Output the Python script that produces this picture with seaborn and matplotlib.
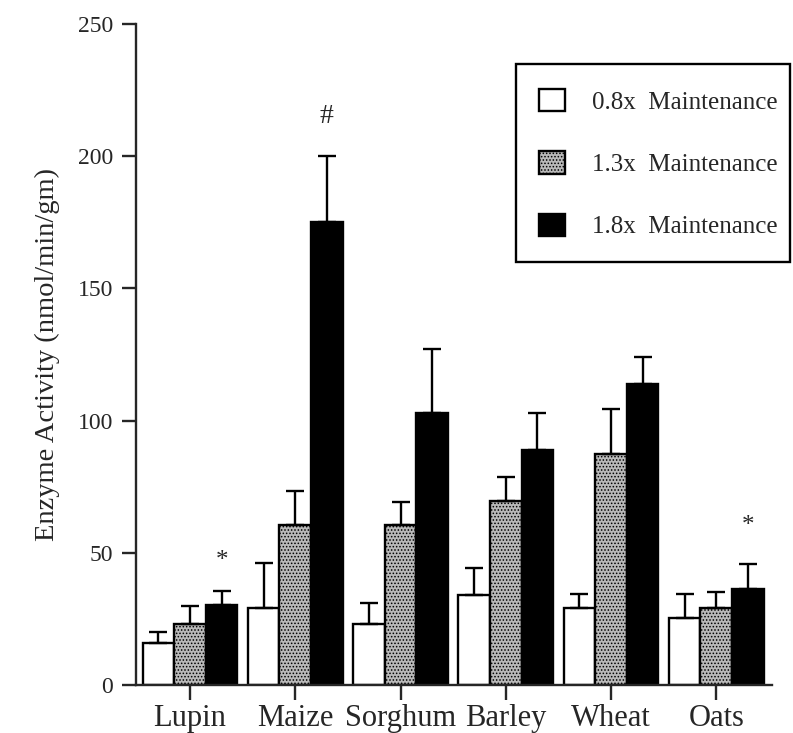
import numpy as np
import pandas as pd
import matplotlib
matplotlib.use("Agg")
import matplotlib.pyplot as plt
from matplotlib.patches import Patch, Rectangle
import seaborn as sns

# Enzyme activity by grain source and feeding level
grains = ["Lupin", "Maize", "Sorghum", "Barley", "Wheat", "Oats"]
levels = ["0.8x  Maintenance", "1.3x  Maintenance", "1.8x  Maintenance"]

mean_08 = [16, 29, 23, 34, 29, 25.4]
mean_13 = [23, 60.4, 60.4, 69.4, 87.5, 29.2]
mean_18 = [30.3, 175, 103, 88.9, 114, 36.2]

sem_08 = [4, 17.3, 8, 10.2, 5.3, 9.2]
sem_13 = [7, 12.9, 8.8, 9.2, 16.9, 6]
sem_18 = [5.2, 25, 24, 13.9, 10, 9.5]

# significance markers: (grain, symbol, height)
marks = [("Lupin", "*", 47), ("Maize", "#", 215), ("Oats", "*", 60)]

colors = ["white", "#b9b9b9", "black"]

df = pd.DataFrame({
    "grain": grains * 3,
    "level": [levels[0]] * 6 + [levels[1]] * 6 + [levels[2]] * 6,
    "activity": mean_08 + mean_13 + mean_18,
    "sem": sem_08 + sem_13 + sem_18,
})

sns.set_style("ticks")
plt.rcParams["font.family"] = ["Liberation Serif", "DejaVu Serif"]
plt.rcParams["hatch.linewidth"] = 0.7

W, H = 793, 733
fig = plt.figure(figsize=(W / 100, H / 100), dpi=100)
ax = fig.add_axes([0.1709, 0.0655, 0.9735 - 0.1709, 0.9673 - 0.0655])

sns.barplot(data=df, x="grain", y="activity", hue="level", hue_order=levels,
            order=grains, palette=colors, edgecolor="black", linewidth=1.7,
            width=0.9, errorbar=None, legend=False, ax=ax, saturation=1)

# stippled fill for the middle level
for bar in ax.containers[1]:
    bar.set_hatch(".....")

# upper-only error bars centred on each bar
for cont, lvl in zip(ax.containers, levels):
    sub = df[df["level"] == lvl].set_index("grain").loc[grains]
    xs = [b.get_x() + b.get_width() / 2 for b in cont]
    ax.errorbar(xs, sub["activity"].values,
                yerr=[np.zeros(len(xs)), sub["sem"].values],
                fmt="none", ecolor="black", elinewidth=1.7, capsize=6.5,
                capthick=1.7, zorder=5)

# significance symbols above the 1.8x bars
black_bars = {g: b for g, b in zip(grains, ax.containers[2])}
for g, sym, h in marks:
    b = black_bars[g]
    ax.text(b.get_x() + b.get_width() / 2, h, sym, ha="center", va="center",
            fontsize=20 if sym == "#" else 18)

ax.set_xlim(-0.518, 5.53)
ax.set_ylim(0, 250)
ax.set_yticks([0, 50, 100, 150, 200, 250])
ax.set_xlabel("")
ax.set_ylabel("Enzyme Activity (nmol/min/gm)", fontsize=20.5, labelpad=13)
sns.despine(ax=ax)
for s in ("left", "bottom"):
    ax.spines[s].set_linewidth(1.7)
ax.tick_params(axis="y", length=10, width=1.7, labelsize=17, pad=6)
ax.tick_params(axis="x", length=11, width=1.7, labelsize=22, pad=3)

# legend entries, placed inside a separately drawn box
handles = [Patch(facecolor=c, edgecolor="black", linewidth=1.7,
                 hatch="....." if i == 1 else None)
           for i, c in enumerate(colors)]
fig.legend(handles, levels, loc="upper left",
           bbox_to_anchor=(539 / W, 1 - 89 / H),
           fontsize=18, frameon=False, handlelength=1.05, handleheight=1.0,
           handletextpad=1.05, labelspacing=1.5, borderpad=0,
           borderaxespad=0)
fig.add_artist(Rectangle((516 / W, 1 - 262 / H), (790 - 516) / W,
                         (262 - 64) / H, transform=fig.transFigure,
                         facecolor="none", edgecolor="black", linewidth=1.7))

fig.savefig("out.png", dpi=100)
